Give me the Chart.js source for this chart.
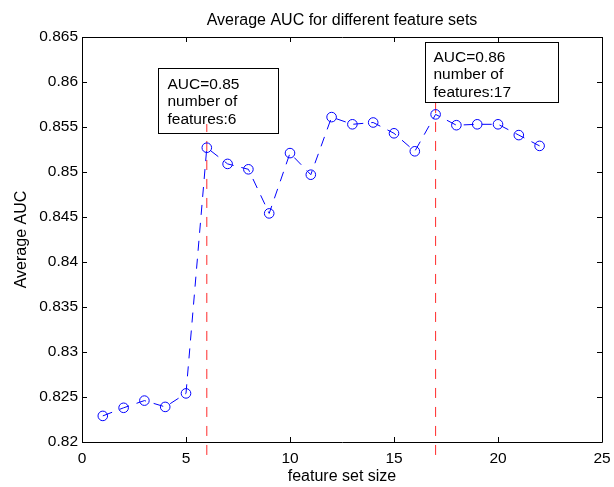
<!DOCTYPE html>
<html>
<head>
<meta charset="utf-8">
<script src="https://cdn.jsdelivr.net/npm/chart.js@4.4.1/dist/chart.umd.min.js"></script>
<style>
  html, body { margin: 0; padding: 0; background: #fff; }
</style>
</head>
<body>
<canvas id="aucChart" width="614" height="487"></canvas>
<script>
// Tamaño del conjunto de caracteristicas y AUC promedio
const featureSetSize = [1, 2, 3, 4, 5, 6, 7, 8, 9, 10, 11, 12, 13, 14, 15, 16, 17, 18, 19, 20, 21, 22];
const averageAuc = [
  0.8229, 0.8238, 0.8246, 0.8239, 0.8254, 0.8527, 0.8509, 0.8503, 0.8454, 0.8521, 0.8497,
  0.8561, 0.8553, 0.8555, 0.8543, 0.8523, 0.8564, 0.8552, 0.8553, 0.8553, 0.8541, 0.8529,
];

// Tamaños marcados con linea roja y los extremos de cada linea
const bestSizes = [6, 17];
const bestLineBottom = [0.81856, 0.81856];
const bestLineTop = [0.85533, 0.8583];

// Ticks de los ejes
const xTicks = [0, 5, 10, 15, 20, 25];
const yTicks = [0.82, 0.825, 0.83, 0.835, 0.84, 0.845, 0.85, 0.855, 0.86, 0.865];

const FONT = 'Liberation Sans, Arial, Helvetica, sans-serif';

// Cajas de texto (esquinas en coordenadas de datos)
const boxes = [
  { size: 6, x0: 3.65, x1: 9.42, y0: 0.86156, y1: 0.85433, padX: 9, firstLine: 20 },
  { size: 17, x0: 16.49, x1: 22.88, y0: 0.86444, y1: 0.85778, padX: 8, firstLine: 19 },
];

function aucAt(size) {
  return averageAuc[featureSetSize.indexOf(size)];
}

// Marco y ticks hacia adentro, estilo matlab
const framePlugin = {
  id: 'frame',
  beforeDatasetsDraw(chart) {
    const { ctx, chartArea: a, scales } = chart;
    ctx.save();
    ctx.strokeStyle = '#000';
    ctx.lineWidth = 1;
    ctx.beginPath();
    ctx.rect(Math.round(a.left) + 0.5, Math.round(a.top) + 0.5,
      Math.round(a.right - a.left), Math.round(a.bottom - a.top));
    ctx.stroke();
    const tl = 5;
    ctx.beginPath();
    xTicks.forEach(v => {
      const px = Math.round(scales.x.getPixelForValue(v)) + 0.5;
      ctx.moveTo(px, a.bottom); ctx.lineTo(px, a.bottom - tl);
      ctx.moveTo(px, a.top); ctx.lineTo(px, a.top + tl);
    });
    yTicks.forEach(v => {
      const py = Math.round(scales.y.getPixelForValue(v)) + 0.5;
      ctx.moveTo(a.left, py); ctx.lineTo(a.left + tl, py);
      ctx.moveTo(a.right, py); ctx.lineTo(a.right - tl, py);
    });
    ctx.stroke();

    // cajas con el texto de AUC
    ctx.font = '15.5px ' + FONT;
    ctx.fillStyle = '#000';
    ctx.textAlign = 'left';
    ctx.textBaseline = 'alphabetic';
    boxes.forEach(b => {
      const left = Math.round(scales.x.getPixelForValue(b.x0)) + 0.5;
      const right = Math.round(scales.x.getPixelForValue(b.x1)) + 0.5;
      const top = Math.round(scales.y.getPixelForValue(b.y0)) + 0.5;
      const bottom = Math.round(scales.y.getPixelForValue(b.y1)) + 0.5;
      ctx.strokeRect(left, top, right - left, bottom - top);
      const lines = ['AUC=' + aucAt(b.size).toFixed(2), 'number of', 'features:' + b.size];
      lines.forEach((t, i) => ctx.fillText(t, left + b.padX, top + b.firstLine + i * 17.5));
    });
    ctx.restore();
  },
};

const datasets = [{
  label: 'Average AUC',
  data: featureSetSize.map((s, i) => ({ x: s, y: averageAuc[i] })),
  showLine: true,
  borderColor: '#0000ff',
  borderWidth: 1,
  borderDash: [10, 8],
  pointRadius: 4.8,
  pointBorderWidth: 1,
  pointBorderColor: '#0000ff',
  pointBackgroundColor: 'rgba(0,0,0,0)',
  pointHoverRadius: 4.8,
}];

bestSizes.forEach((s, i) => {
  datasets.push({
    label: 'best ' + s,
    data: [{ x: s, y: bestLineBottom[i] }, { x: s, y: bestLineTop[i] }],
    showLine: true,
    borderColor: '#ff2a2a',
    borderWidth: 1,
    borderDash: [10, 9],
    pointRadius: 0,
    clip: false,
  });
});

new Chart(document.getElementById('aucChart'), {
  type: 'scatter',
  data: { datasets: datasets },
  plugins: [framePlugin],
  options: {
    responsive: false,
    animation: false,
    devicePixelRatio: 1,
    layout: { padding: { left: 0, right: 12, top: 0, bottom: 0 } },
    plugins: {
      legend: { display: false },
      tooltip: { enabled: false },
      title: {
        display: true,
        text: 'Average AUC for different feature sets',
        fullSize: false,
        color: '#000',
        font: { family: FONT, size: 16, weight: 'normal', lineHeight: 1.2 },
        padding: { top: 10.5, bottom: 7.3 },
      },
    },
    scales: {
      x: {
        type: 'linear',
        min: 0,
        max: 25,
        afterFit: s => { s.height = 45; s.paddingLeft = 0; s.paddingRight = 0; },
        afterBuildTicks: s => { s.ticks = xTicks.map(v => ({ value: v })); },
        grid: { display: false, drawTicks: false },
        border: { display: false },
        ticks: {
          color: '#000',
          padding: 7,
          font: { family: FONT, size: 15.5 },
          maxRotation: 0,
          callback: v => String(v),
        },
        title: {
          display: true,
          text: 'feature set size',
          color: '#000',
          font: { family: FONT, size: 16 },
          padding: { top: 0, bottom: 0.5 },
        },
      },
      y: {
        type: 'linear',
        min: 0.82,
        max: 0.865,
        afterFit: s => { s.width = 82; s.paddingTop = 0; s.paddingBottom = 0; },
        afterBuildTicks: s => { s.ticks = yTicks.map(v => ({ value: v })); },
        grid: { display: false, drawTicks: false },
        border: { display: false },
        ticks: {
          color: '#000',
          padding: 4,
          font: { family: FONT, size: 15.5 },
          callback: v => String(Number(v.toFixed(3))),
        },
        title: {
          display: true,
          text: 'Average AUC',
          color: '#000',
          font: { family: FONT, size: 16 },
          padding: { top: 12.4, bottom: 0 },
        },
      },
    },
  },
});
</script>
</body>
</html>
